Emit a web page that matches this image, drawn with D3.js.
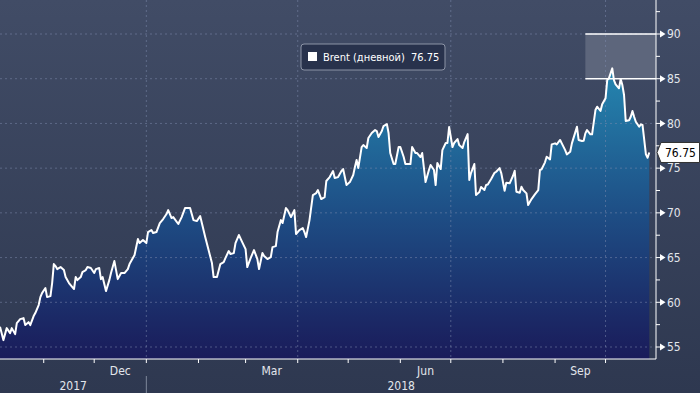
<!DOCTYPE html>
<html>
<head>
<meta charset="utf-8">
<title>Brent</title>
<script src="https://cdn.jsdelivr.net/npm/d3@7"></script>
<style>
  body { margin: 0; background: #333e56; }
  svg { display: block; font-family: "DejaVu Sans Condensed", "DejaVu Sans", sans-serif; }
</style>
</head>
<body>
<div id="chart"></div>
<script>
// series
const dates = [
  "2017-10-06","2017-10-08","2017-10-10","2017-10-12","2017-10-13","2017-10-15","2017-10-16","2017-10-18","2017-10-20","2017-10-21",
  "2017-10-23","2017-10-24","2017-10-26","2017-10-27","2017-10-29","2017-10-30","2017-10-31","2017-11-02","2017-11-03","2017-11-05",
  "2017-11-06","2017-11-07","2017-11-08","2017-11-09","2017-11-11","2017-11-13","2017-11-14","2017-11-16","2017-11-18","2017-11-19",
  "2017-11-20","2017-11-21","2017-11-23","2017-11-24","2017-11-26","2017-11-27","2017-11-29","2017-12-01","2017-12-02","2017-12-04",
  "2017-12-05","2017-12-06","2017-12-08","2017-12-10","2017-12-11","2017-12-13","2017-12-14","2017-12-15","2017-12-17","2017-12-19",
  "2017-12-21","2017-12-22","2017-12-24","2017-12-25","2017-12-27","2017-12-28","2017-12-30","2018-01-01","2018-01-02","2018-01-04",
  "2018-01-05","2018-01-07","2018-01-09","2018-01-11","2018-01-13","2018-01-14","2018-01-16","2018-01-17","2018-01-20","2018-01-22",
  "2018-01-24","2018-01-27","2018-01-29","2018-01-31","2018-02-02","2018-02-03","2018-02-05","2018-02-07","2018-02-09","2018-02-10",
  "2018-02-12","2018-02-14","2018-02-16","2018-02-17","2018-02-19","2018-02-20","2018-02-22","2018-02-23","2018-02-25","2018-02-27",
  "2018-03-01","2018-03-02","2018-03-04","2018-03-06","2018-03-08","2018-03-09","2018-03-11","2018-03-12","2018-03-14","2018-03-16",
  "2018-03-17","2018-03-19","2018-03-20","2018-03-22","2018-03-23","2018-03-25","2018-03-26","2018-03-28","2018-03-30","2018-03-31",
  "2018-04-02","2018-04-04","2018-04-05","2018-04-06","2018-04-08","2018-04-10","2018-04-12","2018-04-13","2018-04-15","2018-04-17",
  "2018-04-18","2018-04-20","2018-04-22","2018-04-23","2018-04-25","2018-04-27","2018-04-28","2018-04-30","2018-05-02","2018-05-04",
  "2018-05-05","2018-05-06","2018-05-07","2018-05-09","2018-05-10","2018-05-12","2018-05-13","2018-05-15","2018-05-17","2018-05-18",
  "2018-05-19","2018-05-21","2018-05-22","2018-05-24","2018-05-25","2018-05-26","2018-05-28","2018-05-29","2018-05-31","2018-06-01",
  "2018-06-03","2018-06-04","2018-06-07","2018-06-08","2018-06-10","2018-06-11","2018-06-13","2018-06-14","2018-06-16","2018-06-18",
  "2018-06-19","2018-06-21","2018-06-22","2018-06-23","2018-06-25","2018-06-26","2018-06-28","2018-06-29","2018-06-30","2018-07-02",
  "2018-07-03","2018-07-05","2018-07-06","2018-07-08","2018-07-09","2018-07-11","2018-07-12","2018-07-13","2018-07-15","2018-07-16",
  "2018-07-18","2018-07-19","2018-07-21","2018-07-22","2018-07-23","2018-07-25","2018-07-27","2018-07-28","2018-07-30","2018-07-31",
  "2018-08-02","2018-08-03","2018-08-05","2018-08-07","2018-08-08","2018-08-09","2018-08-11","2018-08-12","2018-08-13","2018-08-15",
  "2018-08-16","2018-08-18","2018-08-20","2018-08-22","2018-08-23","2018-08-24","2018-08-26","2018-08-27","2018-08-29","2018-08-30",
  "2018-09-01","2018-09-02","2018-09-04","2018-09-05","2018-09-07","2018-09-08","2018-09-10","2018-09-11","2018-09-13","2018-09-14",
  "2018-09-15","2018-09-17","2018-09-18","2018-09-19","2018-09-20","2018-09-22","2018-09-23","2018-09-25","2018-09-26","2018-09-28",
  "2018-09-29","2018-10-01","2018-10-02","2018-10-03","2018-10-05","2018-10-06","2018-10-07","2018-10-09","2018-10-10","2018-10-11",
  "2018-10-12","2018-10-13","2018-10-15","2018-10-16","2018-10-17","2018-10-18","2018-10-19","2018-10-21","2018-10-22","2018-10-23",
  "2018-10-25","2018-10-26","2018-10-27"
];
const brent = [
  57.26,55.77,57.11,56.55,57.11,56.44,57.67,58.12,58.23,57.45,
  57.78,57.45,58.46,58.79,59.69,60.58,61.03,61.59,60.58,60.69,
  62.15,64.27,64.05,63.71,63.94,63.60,62.82,62.15,61.70,61.48,
  62.82,62.48,62.82,63.38,63.60,63.94,63.83,63.27,63.71,63.83,
  62.59,62.82,61.25,62.48,63.27,64.61,63.60,62.59,63.27,63.27,
  63.71,64.27,64.94,65.28,67.07,66.62,66.96,66.62,67.85,68.08,
  67.74,67.85,68.86,69.31,69.87,70.31,69.42,69.53,68.75,69.53,
  70.54,70.54,69.19,69.08,69.64,68.86,67.29,65.84,64.38,62.82,
  62.82,64.27,64.50,64.94,65.73,65.39,65.50,66.62,67.52,66.73,
  65.95,63.94,64.94,65.84,64.83,63.71,65.50,65.17,64.83,65.05,
  66.17,66.28,67.85,69.19,68.86,70.54,70.31,69.53,70.31,67.63,
  68.08,68.30,67.85,67.29,69.19,71.99,72.21,72.55,71.54,71.77,
  73.56,74.00,74.68,73.89,74.00,74.68,74.90,73.11,73.44,74.23,
  75.12,75.91,75.01,77.36,77.58,77.25,78.37,78.93,79.26,79.15,
  78.48,79.15,79.71,79.93,78.93,76.69,75.46,75.46,77.36,77.36,
  76.24,75.46,75.46,77.36,76.69,76.69,76.24,76.69,73.44,74.79,
  75.35,74.79,73.11,75.57,74.90,77.02,77.81,77.81,79.60,77.36,
  77.81,78.25,77.58,77.25,77.92,78.81,73.67,74.45,75.46,71.99,
  72.33,72.89,72.55,73.11,73.17,73.78,74.48,74.60,75.01,74.45,
  72.47,73.37,73.30,74.15,74.71,72.36,72.25,72.92,72.55,72.18,
  70.87,71.54,72.07,72.55,74.79,74.87,75.65,76.27,75.98,77.66,
  77.77,77.66,78.15,77.77,77.02,76.54,76.83,77.77,79.00,79.63,
  78.15,78.03,78.06,78.89,79.26,78.78,78.78,81.50,81.87,81.39,
  82.14,82.81,84.85,85.04,86.16,84.85,84.37,83.93,84.97,84.29,
  83.18,80.27,80.35,80.75,81.39,80.75,80.19,79.63,79.90,79.82,
  76.54,76.16,76.75
];

const yTicks = [55, 60, 65, 70, 75, 80, 85, 90];
const yMinor = [57.5, 62.5, 67.5, 72.5, 77.5, 82.5, 87.5, 92.5];
const monthLabels = ["Dec", "Mar", "Jun", "Sep"];
const monthLabelAt = ["2017-12-01", "2018-03-01", "2018-06-01", "2018-09-01"];
const years = ["2017", "2018"];
const seriesName = "Brent (дневной)";
const lastValue = 76.75;
const band = [85, 90];
const bandStart = "2018-09-19";

const width = 700, height = 393,
  plotRight = 656, plotBottom = 359;

const parse = d3.utcParse("%Y-%m-%d");
const data = dates.map((d, i) => ({date: parse(d), value: brent[i]}));
const start = parse("2017-10-06"), end = parse("2018-10-31");

const x = d3.scaleUtc().domain([start, end]).range([0, plotRight]);
const y = d3.scaleLinear().domain([55, 90]).range([347, 34]);

const svg = d3.select("#chart").append("svg")
  .attr("width", width)
  .attr("height", height);

const defs = svg.append("defs");
const bg = defs.append("linearGradient").attr("id", "bg")
  .attr("x1", 0).attr("y1", 0).attr("x2", 0).attr("y2", 1);
bg.append("stop").attr("offset", 0).attr("stop-color", "#414c66");
bg.append("stop").attr("offset", 1).attr("stop-color", "#2e3850");

const fill = defs.append("linearGradient").attr("id", "fill")
  .attr("gradientUnits", "userSpaceOnUse")
  .attr("x1", 0).attr("x2", 0).attr("y1", y(87)).attr("y2", plotBottom);
fill.append("stop").attr("offset", 0).attr("stop-color", "#2589b2");
fill.append("stop").attr("offset", 0.5).attr("stop-color", "#1e4f86");
fill.append("stop").attr("offset", 1).attr("stop-color", "#1a1b5a");

svg.append("rect").attr("width", width).attr("height", height).attr("fill", "url(#bg)");

// highlighted range
svg.append("rect")
  .attr("x", x(parse(bandStart)))
  .attr("y", y(band[1]))
  .attr("width", plotRight - x(parse(bandStart)))
  .attr("height", y(band[0]) - y(band[1]))
  .attr("fill", "#5d667c");

const area = d3.area()
  .x(d => x(d.date))
  .y0(plotBottom)
  .y1(d => y(d.value));

svg.append("path").datum(data)
  .attr("d", area)
  .attr("fill", "url(#fill)");

// grid
svg.append("g").selectAll("line")
  .data(yTicks)
  .enter().append("line")
  .attr("x1", 0).attr("x2", plotRight)
  .attr("y1", d => y(d)).attr("y2", d => y(d))
  .attr("stroke", "#7f8db0").attr("stroke-opacity", 0.5)
  .attr("stroke-dasharray", "2,3");

const months = d3.utcMonth.range(d3.utcMonth.ceil(start), end);
const quarters = months.filter(d => d.getUTCMonth() % 3 === 0);

svg.append("g").selectAll("line")
  .data(quarters)
  .enter().append("line")
  .attr("x1", d => x(d)).attr("x2", d => x(d))
  .attr("y1", 0).attr("y2", plotBottom)
  .attr("stroke", "#7f8db0").attr("stroke-opacity", 0.5)
  .attr("stroke-dasharray", "2,3");

svg.append("g").selectAll("line")
  .data(band)
  .enter().append("line")
  .attr("x1", x(parse(bandStart))).attr("x2", plotRight)
  .attr("y1", d => y(d)).attr("y2", d => y(d))
  .attr("stroke", "#fff").attr("stroke-width", 1.5);

const line = d3.line()
  .x(d => x(d.date))
  .y(d => y(d.value));

svg.append("path").datum(data)
  .attr("d", line)
  .attr("fill", "none")
  .attr("stroke", "#fff")
  .attr("stroke-width", 2)
  .attr("stroke-linejoin", "round");

// bottom axis
svg.append("line")
  .attr("x1", 0).attr("x2", plotRight)
  .attr("y1", plotBottom).attr("y2", plotBottom)
  .attr("stroke", "#fff");

svg.append("g").selectAll("line")
  .data(months)
  .enter().append("line")
  .attr("x1", d => x(d)).attr("x2", d => x(d))
  .attr("y1", plotBottom).attr("y2", plotBottom + 4)
  .attr("stroke", "#fff");

svg.append("g").selectAll("text")
  .data(monthLabels)
  .enter().append("text")
  .attr("x", (d, i) => {
    const m = parse(monthLabelAt[i]);
    return (x(m) + x(d3.utcMonth.offset(m, 1))) / 2;
  })
  .attr("y", 375)
  .attr("text-anchor", "middle")
  .attr("font-size", 12)
  .attr("fill", "#e3e6ec")
  .text(d => d);

const yearStart = d3.utcYear.ceil(start);
svg.append("line")
  .attr("x1", x(yearStart)).attr("x2", x(yearStart))
  .attr("y1", 376).attr("y2", height)
  .attr("stroke", "#7d879b");

svg.append("g").selectAll("text")
  .data(years)
  .enter().append("text")
  .attr("x", (d, i) => i === 0 ? x(yearStart) / 2 : (x(yearStart) + plotRight) / 2)
  .attr("y", 390)
  .attr("text-anchor", "middle")
  .attr("font-size", 12)
  .attr("fill", "#e3e6ec")
  .text(d => d);

// right axis
svg.append("line")
  .attr("x1", plotRight).attr("x2", plotRight)
  .attr("y1", 0).attr("y2", plotBottom)
  .attr("stroke", "#fff");

svg.append("g").selectAll("line")
  .data(yMinor)
  .enter().append("line")
  .attr("x1", plotRight).attr("x2", plotRight + 4)
  .attr("y1", d => y(d)).attr("y2", d => y(d))
  .attr("stroke", "#fff");

const tick = svg.append("g").selectAll("g")
  .data(yTicks)
  .enter().append("g")
  .attr("transform", d => `translate(${plotRight},${y(d)})`);

tick.append("line").attr("x1", 0).attr("x2", 5).attr("stroke", "#fff");
tick.append("path").attr("d", "M4,-3.5L9.5,0L4,3.5Z").attr("fill", "#fff");
tick.append("text")
  .attr("x", 11).attr("dy", "0.36em")
  .attr("font-size", 12)
  .attr("fill", "#e3e6ec")
  .text(d => d);

// last value flag
const ly = y(lastValue);
svg.append("path")
  .attr("d", `M${plotRight + 1},${ly}L${plotRight + 5},${ly - 10}H${width - 0.5}V${ly + 10}H${plotRight + 5}Z`)
  .attr("fill", "#fff")
  .attr("stroke", "#333");
svg.append("text")
  .attr("x", plotRight + 9).attr("y", ly).attr("dy", "0.36em")
  .attr("font-size", 12)
  .attr("fill", "#000")
  .text(lastValue.toFixed(2));

// legend
const legend = svg.append("g").attr("transform", "translate(301,44)");
legend.append("rect")
  .attr("width", 144).attr("height", 26).attr("rx", 3)
  .attr("fill", "#28324c").attr("stroke", "#8c94a6");
legend.append("rect")
  .attr("x", 7).attr("y", 8).attr("width", 9).attr("height", 9)
  .attr("fill", "#fff");
legend.append("text")
  .attr("x", 22).attr("y", 17)
  .attr("font-size", 11)
  .attr("fill", "#fff")
  .text(seriesName);
legend.append("text")
  .attr("x", 110).attr("y", 17)
  .attr("font-size", 11)
  .attr("fill", "#fff")
  .text(lastValue.toFixed(2));
</script>
</body>
</html>
